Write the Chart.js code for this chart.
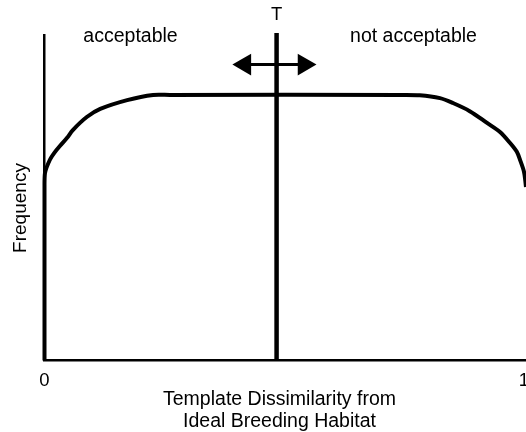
<!DOCTYPE html>
<html>
<head>
<meta charset="utf-8">
<script src="https://cdn.jsdelivr.net/npm/chart.js@4/dist/chart.umd.min.js"></script>
<style>
  html, body { margin: 0; padding: 0; background: #fff; overflow: hidden; }
  #wrap { width: 526px; height: 432px; }
</style>
</head>
<body>
<div id="wrap"><canvas id="chart" width="526" height="432"></canvas></div>
<script>
// Frequency curve (conceptual, 0..1 on both axes)
const curveX = [0, 0, 0.001, 0.011, 0.022, 0.032, 0.047, 0.059, 0.088, 0.116, 0.172, 0.226, 0.261,
                0.74, 0.781, 0.823, 0.850, 0.885, 0.921, 0.948, 0.969, 0.983, 0.990, 0.998, 1.002, 1.004];
const curveY = [0, 0.539, 0.576, 0.616, 0.641, 0.659, 0.684, 0.708, 0.748, 0.773, 0.800, 0.816, 0.816,
                0.816, 0.815, 0.806, 0.791, 0.766, 0.730, 0.702, 0.668, 0.641, 0.615, 0.579, 0.533, 0.493];

// Threshold T and the double arrow showing it can move
const thresholdX = [0.483, 0.483];
const thresholdY = [0, 1.006];
const arrowX = [0.417, 0.540];
const arrowY = [0.909, 0.909];

const tickValues = [0, 1];
const tickLabels = ['0', '1'];
const regionLabels = ['acceptable', 'not acceptable'];
const thresholdLabel = 'T';
const yTitle = 'Frequency';
const xTitle = ['Template Dissimilarity from', 'Ideal Breeding Habitat'];

const FONT = '"Liberation Sans", Arial, sans-serif';

const toPoints = (xs, ys) => xs.map((x, i) => ({ x: x, y: ys[i] }));

// Draws all the text around the plot
const textPlugin = {
    id: 'texts',
    afterDraw(chart) {
        const ctx = chart.ctx;
        const sx = chart.scales.x;
        ctx.save();
        ctx.fillStyle = '#000';
        ctx.textAlign = 'center';
        ctx.textBaseline = 'alphabetic';

        ctx.font = '19.5px ' + FONT;
        ctx.fillText(regionLabels[0], 130.5, 42);
        ctx.fillText(regionLabels[1], 413.5, 42);

        ctx.font = '18.5px ' + FONT;
        ctx.fillText(thresholdLabel, sx.getPixelForValue(thresholdX[0]), 20);

        // tick labels
        tickValues.forEach((v, i) => {
            ctx.fillText(tickLabels[i], sx.getPixelForValue(v) - (i === 1 ? 1 : 0), 386);
        });

        // x title
        ctx.font = '19.5px ' + FONT;
        ctx.fillText(xTitle[0], 279.5, 405);
        ctx.fillText(xTitle[1], 279.5, 427);

        // y title
        ctx.font = '19px ' + FONT;
        ctx.translate(26, 208);
        ctx.rotate(-Math.PI / 2);
        ctx.fillText(yTitle, 0, 0);
        ctx.restore();
    }
};

new Chart(document.getElementById('chart'), {
    type: 'line',
    data: {
        datasets: [
            {
                data: toPoints(curveX, curveY),
                borderColor: '#000',
                borderWidth: 4,
                pointRadius: 0,
                tension: 0.3,
                clip: false
            },
            {
                data: toPoints(thresholdX, thresholdY),
                borderColor: '#000',
                borderWidth: 4.5,
                pointRadius: 0,
                clip: false
            },
            {
                data: toPoints(arrowX, arrowY),
                borderColor: '#000',
                borderWidth: 3,
                pointStyle: 'triangle',
                pointRadius: 12.5,
                pointRotation: [-90, 90],
                pointBackgroundColor: '#000',
                pointBorderWidth: 0,
                clip: false
            }
        ]
    },
    options: {
        responsive: false,
        animation: false,
        events: [],
        layout: { autoPadding: false, padding: { left: 44.5, right: 1, top: 35, bottom: 71.5 } },
        plugins: {
            legend: { display: false },
            tooltip: { enabled: false }
        },
        scales: {
            x: {
                type: 'linear',
                min: 0,
                max: 1,
                grid: { display: false, drawTicks: false },
                border: { display: true, color: '#000', width: 2.5 },
                ticks: { display: false }
            },
            y: {
                type: 'linear',
                min: 0,
                max: 1,
                grid: { display: false, drawTicks: false },
                border: { display: true, color: '#000', width: 2.5 },
                ticks: { display: false }
            }
        }
    },
    plugins: [textPlugin]
});
</script>
</body>
</html>
